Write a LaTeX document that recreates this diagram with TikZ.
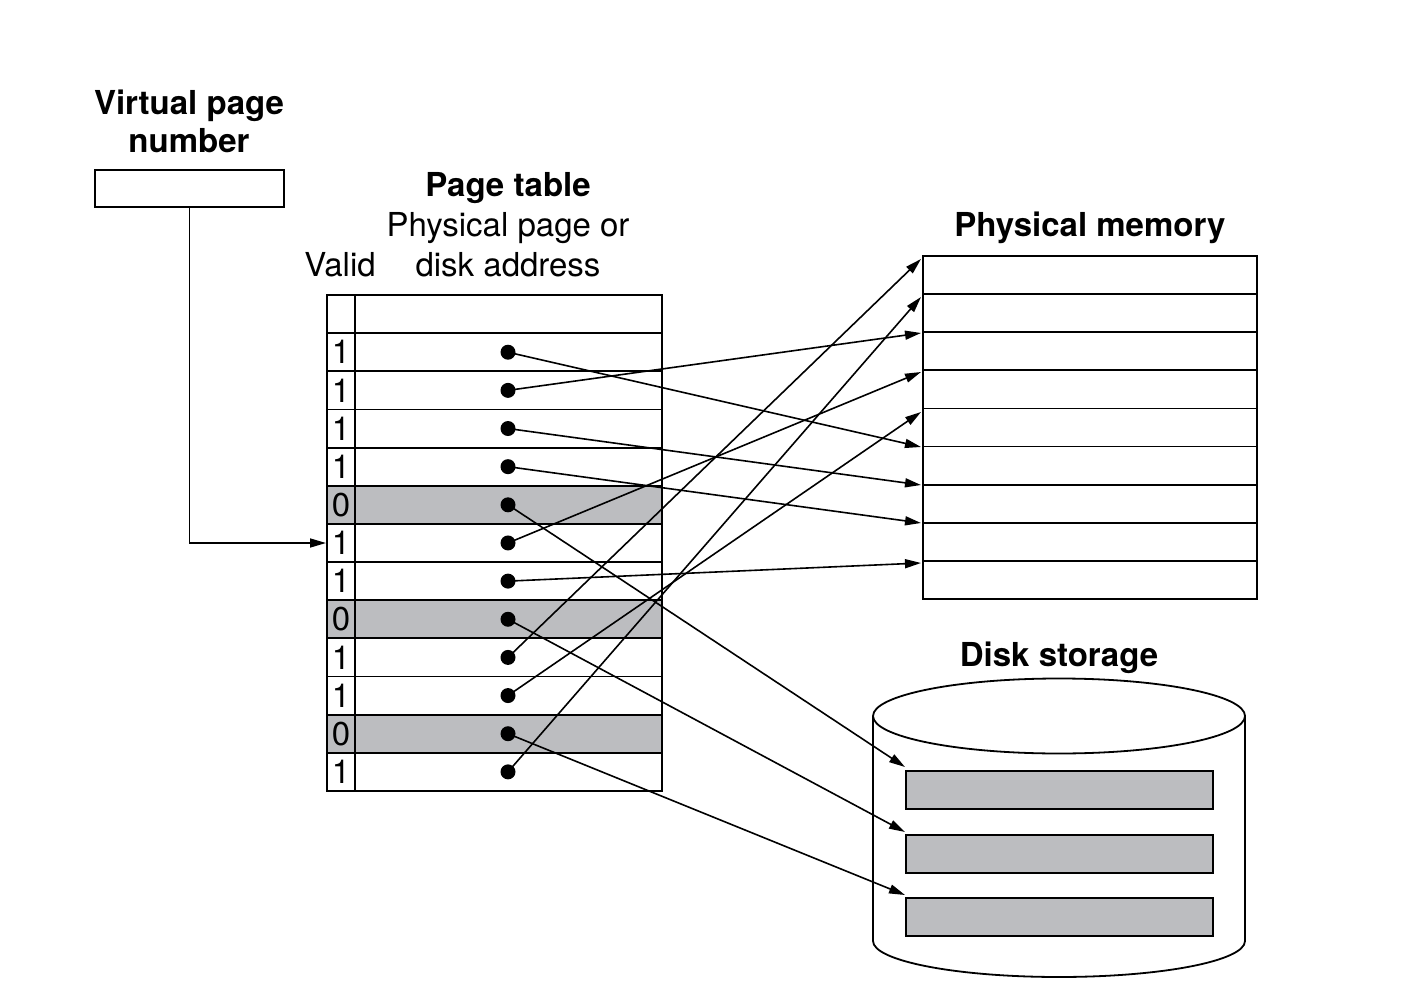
\documentclass[tikz,border=0pt]{standalone}
\usepackage{fontspec}
\setmainfont{TeX Gyre Heros}
\usetikzlibrary{arrows.meta}
\definecolor{cellgray}{RGB}{188,189,192}
\begin{document}
\begin{tikzpicture}[x=0.5pt,y=-0.5pt,
  every node/.style={inner sep=0pt, font=\fontsize{16.5pt}{19.5pt}\selectfont},
  lbl/.style={anchor=base},
  hdr/.style={anchor=base, font=\fontsize{16.5pt}{19.5pt}\selectfont\bfseries},
  frame/.style={draw=black, line width=0.9pt},
  dot/.style={circle, fill=black, minimum size=7.5pt, inner sep=0pt},
  conn/.style={line width=0.8pt, -{Triangle[length=8pt,width=4.5pt]}},
  block/.style={frame, fill=cellgray, anchor=north west, minimum width=153.5pt, minimum height=19pt}]
\useasboundingbox (0,0) rectangle (1419,1000);

% labels
\node[hdr] (vpn1) at (189,115) {Virtual page};
\node[hdr] (vpn2) at (189,153) {number};
\node[hdr] (pt) at (508,197) {Page table};
\node[lbl] (ppa1) at (508,237) {Physical page or};
\node[lbl] (ppa2) at (508,277) {disk address};
\node[lbl] (valid) at (340,277) {Valid};
\node[hdr] (pmt) at (1090,237) {Physical memory};
\node[hdr] (dst) at (1059,666) {Disk storage};

% virtual page number box
\node[frame, anchor=north west, minimum width=94.5pt, minimum height=18.5pt] (vpn) at (94,169) {};

% page table: shaded rows
\foreach \i in {5,8,11}{
  \pgfmathsetmacro{\ya}{295+38.15*\i}
  \pgfmathsetmacro{\yb}{295+38.15*(\i+1)}
  \fill[cellgray] (327,\ya) rectangle (662,\yb);
}
\draw[frame] (327,295) rectangle (662,791);
\draw[frame] (355,295) -- (355,791);
\foreach \i in {1,...,12}{
  \pgfmathsetmacro{\ya}{295+38.15*\i}
  \draw[frame] (327,\ya) -- (662,\ya);
}
\foreach \i/\v in {1/1,2/1,3/1,4/1,5/0,6/1,7/1,8/0,9/1,10/1,11/0,12/1}{
  \pgfmathsetmacro{\yc}{295+38.15*\i+19.07}
  \node (v\i) at (341,\yc) {\v};
  \node[dot] (d\i) at (508,\yc) {};
}

% physical memory
\draw[frame] (923,256) rectangle (1257,599);
\foreach \i in {1,...,8}{
  \pgfmathsetmacro{\ya}{256+38.11*\i}
  \draw[frame] (923,\ya) -- (1257,\ya);
}
\coordinate (pm1) at (921,259);
\coordinate (pm2) at (921,297);
\coordinate (pm3) at (921,333);
\coordinate (pm4) at (921,372);
\coordinate (pm5) at (921,412);
\coordinate (pm6) at (921,447);
\coordinate (pm7) at (921,485);
\coordinate (pm8) at (921,523);
\coordinate (pm9) at (921,563);

% disk storage cylinder
\draw[frame] (1059,716) ellipse [x radius=93pt, y radius=18.75pt];
\draw[frame] (873,716) -- (873,941) arc[start angle=180, end angle=360, x radius=93pt, y radius=18pt] -- (1245,716);
\node[block] (b1) at (905,770) {};
\node[block] (b2) at (905,834) {};
\node[block] (b3) at (905,897) {};

% connectors
\coordinate (vpnin) at (326,543);
\draw[conn] (vpn.south) |- (vpnin);
\draw[conn] (d1.center) -- (pm6);
\draw[conn] (d2.center) -- (pm3);
\draw[conn] (d3.center) -- (pm7);
\draw[conn] (d4.center) -- (pm8);
\draw[conn] (d5.center) -- ([yshift=1.5pt]b1.north west);
\draw[conn] (d6.center) -- (pm4);
\draw[conn] (d7.center) -- (pm9);
\draw[conn] (d8.center) -- ([yshift=1pt]b2.north west);
\draw[conn] (d9.center) -- (pm1);
\draw[conn] (d10.center) -- (pm5);
\draw[conn] (d11.center) -- ([yshift=1pt]b3.north west);
\draw[conn] (d12.center) -- (pm2);
\end{tikzpicture}
\end{document}
